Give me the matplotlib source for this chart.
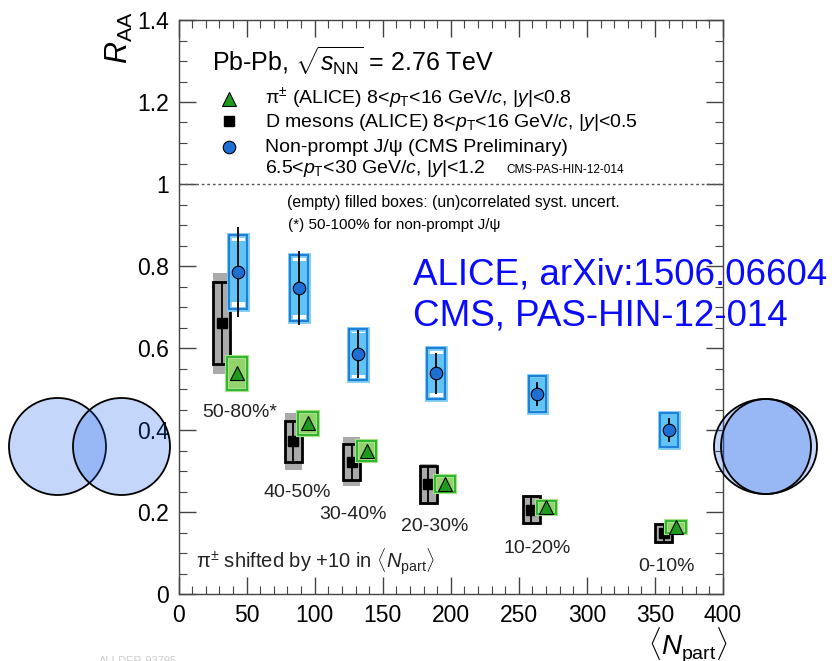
import numpy as np
import matplotlib
matplotlib.use("Agg")
from matplotlib import pyplot as plt
from matplotlib.patches import Rectangle, Ellipse
from matplotlib.ticker import MultipleLocator, FuncFormatter

plt.rcParams['font.family'] = ['Liberation Sans', 'DejaVu Sans']
plt.rcParams['mathtext.fontset'] = 'custom'
plt.rcParams['mathtext.rm'] = 'Liberation Sans'
plt.rcParams['mathtext.it'] = 'Liberation Sans:italic'
plt.rcParams['mathtext.bf'] = 'Liberation Sans:bold'

# D mesons (ALICE), 8<pT<16 GeV/c
npart_d = [31.6, 84.2, 127.1, 183.3, 259.2, 356.4]
raa_d = [0.66, 0.372, 0.323, 0.268, 0.205, 0.148]
stat_d = [0.10, 0.05, 0.044, 0.044, 0.033, 0.022]
uncorr_d = [0.10, 0.05, 0.044, 0.045, 0.033, 0.022]
corr_d = [0.124, 0.07, 0.06, 0.05, 0.037, 0.025]

# charged pions (ALICE), shifted by +10 in Npart
npart_pi = [42.6, 94.8, 138.1, 195.6, 270.3, 365.7]
raa_pi = [0.538, 0.416, 0.349, 0.268, 0.211, 0.163]
stat_pi = [0.01, 0.008, 0.007, 0.006, 0.005, 0.004]
syst_pi = [0.04, 0.028, 0.025, 0.02, 0.016, 0.015]

# non-prompt J/psi (CMS preliminary)
npart_j = [43.8, 88.4, 132.0, 189.0, 263.7, 360.3]
raa_j = [0.786, 0.747, 0.585, 0.538, 0.488, 0.40]
stat_j = [0.11, 0.09, 0.059, 0.049, 0.03, 0.029]
uncorr_j = [0.09, 0.08, 0.062, 0.062, 0.043, 0.042]
corr_j = [0.074, 0.066, 0.052, 0.047, 0.04, 0.04]

cent_labels = ['50-80%*', '40-50%', '30-40%', '20-30%', '10-20%', '0-10%']
label_x = [45.0, 87.3, 128.4, 188.3, 263.5, 358.6]
label_y = [0.4325, 0.236, 0.183, 0.154, 0.101, 0.056]


def boxes(ax, x, y, half_h, half_w, **kw):
    for xi, yi, hi in zip(x, y, half_h):
        ax.add_patch(Rectangle((xi - half_w, yi - hi), 2 * half_w, 2 * hi, **kw))


fig = plt.figure(figsize=(8.36, 6.61), dpi=100)
ax = fig.add_axes([178.6 / 836, 1 - 594 / 661, 544.4 / 836, 574 / 661])
ax.set_xlim(0, 400)
ax.set_ylim(0, 1.4)

ax.axhline(1.0, color='#555555', ls=(0, (2, 2)), lw=1)

# D mesons: filled grey = correlated, empty black = uncorrelated
boxes(ax, npart_d, raa_d, corr_d, 6.2, facecolor='#aaaaaa', edgecolor='none', zorder=2)
boxes(ax, npart_d, raa_d, uncorr_d, 6.2, facecolor='none', edgecolor='black', lw=2, zorder=3)
ax.errorbar(npart_d, raa_d, yerr=stat_d, fmt='s', color='black', ms=7, lw=1.3, capsize=0, zorder=4)

# pions
boxes(ax, npart_pi, raa_pi, syst_pi, 7.3, facecolor='#92d36c', edgecolor='#a8e08c', lw=3, zorder=5)
boxes(ax, npart_pi, raa_pi, syst_pi, 7.3, facecolor='none', edgecolor='#2db52d', lw=1.4, zorder=5)
ax.errorbar(npart_pi, raa_pi, yerr=stat_pi, fmt='^', color='black', mfc='#1e9a1e', mec='black',
            mew=0.8, ms=10, lw=1, capsize=0, zorder=6)

# non-prompt J/psi
boxes(ax, npart_j, raa_j, uncorr_j, 6.5, facecolor='white', edgecolor='#7fcdf5', lw=3.5, zorder=5)
boxes(ax, npart_j, raa_j, corr_j, 6.5, facecolor='#62c4f4', edgecolor='none', zorder=5)
boxes(ax, npart_j, raa_j, uncorr_j, 6.5, facecolor='none', edgecolor='#1f80d8', lw=1.5, zorder=5)
ax.errorbar(npart_j, raa_j, yerr=stat_j, fmt='o', color='black', mfc='#1f6ed4', mec='black',
            mew=0.8, ms=9, lw=1.3, capsize=0, zorder=6)

for lab, lx, ly in zip(cent_labels, label_x, label_y):
    ax.text(lx, ly, lab, fontsize=14, ha='center', va='baseline', color='#222222')

ax.text(12.8, 0.061, r'$\mathrm{\pi}^{\pm}$ shifted by +10 in $\langle N_{\rm part}\rangle$', fontsize=14.5,
        va='baseline', color='#222222')

# header and legend
ax.text(0.0608, 0.9107, r'Pb-Pb, $\sqrt{s_{\rm NN}}$ = 2.76 TeV', transform=ax.transAxes,
        fontsize=18, va='baseline')
ax.plot([0.093], [0.863], '^', transform=ax.transAxes, mfc='#1e9a1e', mec='black', mew=0.8, ms=10)
ax.plot([0.093], [0.8245], 's', transform=ax.transAxes, color='black', ms=7)
ax.plot([0.093], [0.778], 'o', transform=ax.transAxes, mfc='#1f6ed4', mec='black', mew=0.8, ms=9)
leg_lines = [r'$\mathrm{\pi}^{\pm}$ (ALICE) 8<$p_{\rm T}$<16 GeV/$c$, $|y|$<0.8',
             r'D mesons (ALICE) 8<$p_{\rm T}$<16 GeV/$c$, $|y|$<0.5',
             'Non-prompt J/\u03c8 (CMS Preliminary)',
             r'6.5<$p_{\rm T}$<30 GeV/$c$, $|y|$<1.2']
leg_y = [0.8537, 0.813, 0.7706, 0.734]
for t, yy in zip(leg_lines, leg_y):
    ax.text(0.1587, yy, t, transform=ax.transAxes, fontsize=14, va='baseline')
ax.text(0.602, 0.734, 'CMS-PAS-HIN-12-014', transform=ax.transAxes, fontsize=8.5, va='baseline')

ax.text(0.1986, 0.6748, '(empty) filled boxes: (un)correlated syst. uncert.', transform=ax.transAxes,
        fontsize=11.3, va='baseline')
ax.text(0.2015, 0.6354, '(*) 50-100% for non-prompt J/\u03c8', transform=ax.transAxes,
        fontsize=11, va='baseline')

ax.text(0.431, 0.540, 'ALICE, arXiv:1506.06604', transform=ax.transAxes, fontsize=26.5,
        color='#0a0aff', va='baseline', clip_on=False, zorder=8)
ax.text(0.431, 0.4686, 'CMS, PAS-HIN-12-014', transform=ax.transAxes, fontsize=26.5,
        color='#0a0aff', va='baseline', clip_on=False, zorder=8)

# axes styling
ax.xaxis.set_major_locator(MultipleLocator(50))
ax.xaxis.set_minor_locator(MultipleLocator(10))
ax.yaxis.set_major_locator(MultipleLocator(0.2))
ax.yaxis.set_minor_locator(MultipleLocator(0.05))
ax.yaxis.set_major_formatter(FuncFormatter(lambda v, p: '%g' % round(v, 2)))
ax.tick_params(which='both', direction='in', top=True, right=True, color='#444444')
ax.tick_params(which='major', length=12, width=1, labelsize=16.5, pad=7)
ax.tick_params(which='minor', length=6, width=0.8)
for s in ax.spines.values():
    s.set_color('#444444')
    s.set_linewidth(1)

ax.text(-0.108, 1.014, r'$R_{\rm AA}$', transform=ax.transAxes, rotation=90, fontsize=22,
        ha='center', va='top')
ax.text(1.008, -0.108, r'$\langle N_{\rm part}\rangle$', transform=ax.transAxes, fontsize=20,
        ha='right', va='baseline')

fig.text(0.118, -0.005, 'ALI-DER-93795', fontsize=8, color='#cccccc')

# overlapping circles
face = (0.08, 0.37, 0.92, 0.25)
W, H = 836.0, 661.0
for cx, cy, w, h in [(57.5, 446.5, 97, 97), (121.5, 446.5, 97, 97),
                     (765.5, 446.5, 103, 95), (766, 446.5, 90, 95)]:
    fig.add_artist(Ellipse((cx / W, 1 - cy / H), w / W, h / H, transform=fig.transFigure,
                           facecolor=face, edgecolor='black', lw=1.3, zorder=10))

fig.savefig('out.png', dpi=100)
